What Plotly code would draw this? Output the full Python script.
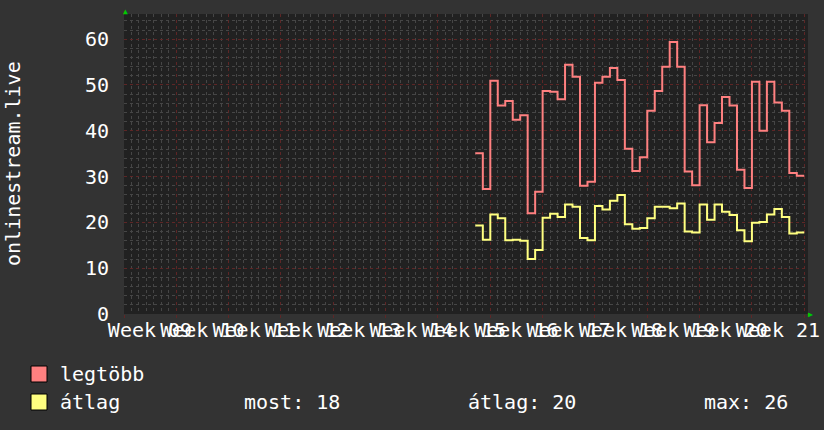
import plotly.graph_objects as go

# ---- data (daily values; x in days since start of Week 09) ----
first_day = 47
legtobb = [35.1, 27.3, 50.9, 45.5, 46.5, 42.4, 43.4, 22.0, 26.7, 48.7,
           48.5, 46.9, 54.4, 51.8, 28.0, 28.9, 50.5, 51.8, 53.7, 51.1,
           36.1, 31.2, 34.2, 44.4, 48.7, 54.0, 59.4, 54.0, 31.1, 28.1,
           45.6, 37.5, 41.7, 47.4, 45.5, 31.5, 27.5, 50.7, 40.0, 50.7,
           46.2, 44.4, 30.8, 30.2]
atlag = [19.3, 16.2, 21.7, 20.9, 16.1, 16.2, 16.0, 12.0, 14.0, 21.0,
         21.9, 21.2, 23.9, 23.4, 16.6, 16.1, 23.6, 22.8, 24.7, 26.0,
         19.6, 18.6, 18.8, 20.9, 23.4, 23.4, 23.1, 24.1, 18.0, 17.8,
         23.9, 20.6, 23.9, 22.3, 21.6, 18.3, 15.9, 19.9, 20.1, 21.7,
         22.9, 21.2, 17.6, 17.8]
week_labels = ["Week 09", "Week 10", "Week 11", "Week 12", "Week 13", "Week 14",
               "Week 15", "Week 16", "Week 17", "Week 18", "Week 19", "Week 20",
               "Week 21"]
y_ticks = [0, 10, 20, 30, 40, 50, 60]

days = [first_day + i for i in range(len(atlag))]
xs = days + [days[-1] + 1]

FONT = "DejaVu Sans Mono"
RED = "#ff8080"
YEL = "#ffff80"
BG = "#333333"
PLOT_BG = "#212121"
MAJ = "#5e2626"
MIN = "#464646"

fig = go.Figure()
fig.add_trace(go.Scatter(x=xs, y=legtobb + [legtobb[-1]], mode="lines",
                         line=dict(color=RED, width=2, shape="hv"),
                         name="legtöbb", hoverinfo="skip"))
fig.add_trace(go.Scatter(x=xs, y=atlag + [atlag[-1]], mode="lines",
                         line=dict(color=YEL, width=2, shape="hv"),
                         name="átlag", hoverinfo="skip"))

n_weeks = len(week_labels)
week_ticks = [7 * i for i in range(n_weeks + 1)]

fig.update_layout(
    width=824, height=430, autosize=False,
    margin=dict(l=124, r=16, t=14, b=116, autoexpand=False),
    paper_bgcolor=BG, plot_bgcolor=PLOT_BG,
    showlegend=False,
    font=dict(family=FONT, color="#ffffff", size=20),
    xaxis=dict(
        range=[0, 7 * n_weeks + 0.5], tickmode="array",
        tickvals=week_ticks, ticktext=week_labels + [""],
        ticklabelshift=26, tickangle=0, automargin=False,
        ticks="outside", ticklen=3, tickcolor=MAJ, ticklabelstandoff=-5,
        showgrid=True, gridcolor=MAJ, griddash="dot", gridwidth=1,
        minor=dict(dtick=1, showgrid=True, gridcolor=MIN, griddash="dot", gridwidth=1),
        zeroline=False, showline=False,
        tickfont=dict(family=FONT, size=20, color="#ffffff"),
    ),
    yaxis=dict(
        range=[0, 65.5], tickmode="array", tickvals=y_ticks, automargin=False,
        showgrid=True, gridcolor=MAJ, griddash="dot", gridwidth=1,
        minor=dict(dtick=2, showgrid=True, gridcolor=MIN, griddash="dot", gridwidth=1),
        zeroline=False, showline=False, ticklabelstandoff=14,
        tickfont=dict(family=FONT, size=20, color="#ffffff"),
    ),
)

# y-axis title
fig.add_annotation(text="onlinestream.live", xref="paper", yref="paper",
                   x=0, y=0.5, xshift=-111, textangle=-90, showarrow=False,
                   xanchor="center", yanchor="middle",
                   font=dict(family=FONT, size=20, color="#ffffff"))

# axis arrows
fig.add_annotation(text="▲", xref="paper", yref="paper", x=0, y=1,
                   xanchor="center", yanchor="bottom", showarrow=False,
                   yshift=-4, xshift=1, font=dict(size=8, color="#00cc00"))
fig.add_annotation(text="▶", xref="paper", yref="paper", x=1, y=0,
                   xanchor="left", yanchor="middle", showarrow=False,
                   xshift=-2, font=dict(size=8, color="#00cc00"))

# legend (rrdtool style)
def px_x(px):
    return (px - 124) / 684.0

def px_y(py):
    return (314 - py) / 300.0

for color, top in [(RED, 366), (YEL, 394)]:
    fig.add_shape(type="rect", xref="paper", yref="paper",
                  x0=px_x(31), x1=px_x(47), y0=px_y(top), y1=px_y(top + 16),
                  fillcolor=color, line=dict(color="#000000", width=1))

last_val = round(atlag[-1])
avg_val = round(sum(atlag) / len(atlag))
max_val = round(max(atlag))
legend_texts = [
    ("legtöbb", 58, 374),
    ("átlag", 58, 402),
    (f"most: {last_val}", 242, 402),
    (f"átlag: {avg_val}", 466, 402),
    (f"max: {max_val}", 702, 402),
]
for txt, lx, ly in legend_texts:
    fig.add_annotation(text=txt, xref="paper", yref="paper",
                       x=px_x(lx), y=px_y(ly), xanchor="left", yanchor="middle",
                       showarrow=False,
                       font=dict(family=FONT, size=20, color="#ffffff"))

fig.write_html("out.html",
               config={"displayModeBar": False, "responsive": False},
               post_script="document.body.style.margin='0';"
                           "document.documentElement.style.overflow='hidden';"
                           "document.body.style.background='#333333';")
